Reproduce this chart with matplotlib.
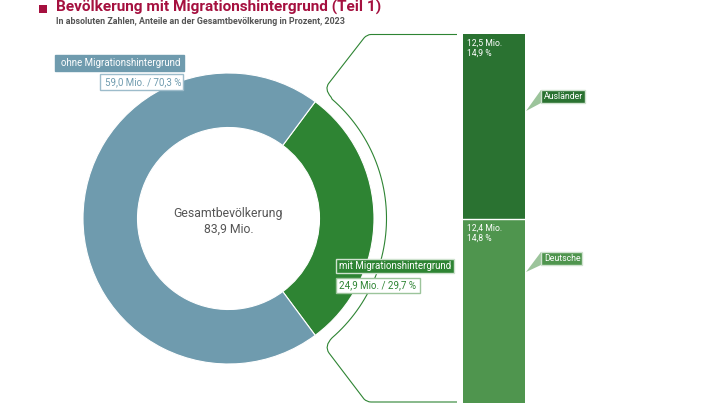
import numpy as np
import matplotlib
matplotlib.use("Agg")
import matplotlib.pyplot as plt
from matplotlib.patches import Rectangle, Polygon, PathPatch
from matplotlib.path import Path

plt.rcParams["font.family"] = ["Roboto", "DejaVu Sans"]

W, H = 720, 407

# data
donut_labels = ["mit Migrationshintergrund", "ohne Migrationshintergrund"]
donut_values = [24.9, 59.0]
donut_shares = [29.7, 70.3]
total = 83.9
bar_labels = ["Deutsche", "Ausländer"]
bar_values = [12.4, 12.5]
bar_shares = [14.8, 14.9]

BLUE = "#6f9bae"
GREEN = "#2e8433"
DARK = "#2a7231"
LIGHT = "#4f954e"
RED = "#a5103f"
GREY = "#555555"

fig = plt.figure(figsize=(W / 100, H / 100), dpi=100)

# background axes in pixel coords
ax = fig.add_axes([0, 0, 1, 1])


def py(y):
    return H - y


def de(v, unit):
    return f"{v:.1f} {unit}".replace(".", ",", 1)


# ========== donut ==========
cx, cy, R = 228.5, 218.5, 145.5
ax.pie(donut_values, colors=[GREEN, BLUE], center=(cx, py(cy)), radius=R,
       startangle=-donut_values[0] / total * 180, counterclock=True,
       wedgeprops=dict(width=R - 91, edgecolor="white", linewidth=0.8), frame=True)
ax.set_xlim(0, W)
ax.set_ylim(0, H)
ax.set_aspect("auto")
ax.axis("off")

ax.text(cx, py(214), "Gesamtbevölkerung", ha="center", va="center", fontsize=8.8, color=GREY)
ax.text(cx, py(229), de(total, "Mio."), ha="center", va="center", fontsize=8.8, color=GREY)

# ========== bracket ==========
r_arc = 158
a = np.radians(np.linspace(49, -49, 60))
arc = [(cx + r_arc * np.cos(t), py(cy - r_arc * np.sin(t))) for t in a]
verts = [(457, py(34.5)), (371, py(34.5)), (367, py(34.5)), (364, py(38)), (329, py(83)), (324, py(89)), (331, py(97))]
codes = [Path.MOVETO, Path.LINETO, Path.CURVE3, Path.CURVE3, Path.LINETO, Path.CURVE3, Path.CURVE3]
verts += arc
codes += [Path.LINETO] * len(arc)
verts += [(324, py(346)), (329, py(353)), (364, py(399)), (367, py(402)), (371, py(402)), (457, py(402))]
codes += [Path.CURVE3, Path.CURVE3, Path.LINETO, Path.CURVE3, Path.CURVE3, Path.LINETO]
ax.add_patch(PathPatch(Path(verts, codes), fill=False, edgecolor=GREEN, linewidth=0.8, zorder=3))

# ========== stacked bar ==========
bar_ax = fig.add_axes([463 / W, (H - 403) / H, 62 / W, 369 / H])
bar_ax.bar([0], bar_values[0], width=1, color=LIGHT)
bar_ax.bar([0], bar_values[1], width=1, bottom=bar_values[0], color=DARK, edgecolor="none")
bar_ax.axhline(bar_values[0], color="white", linewidth=1)
bar_ax.set_xlim(-0.5, 0.5)
bar_ax.set_ylim(0, sum(bar_values))
bar_ax.axis("off")

for y0, val, share in [(43, bar_values[1], bar_shares[1]), (228, bar_values[0], bar_shares[0])]:
    ax.text(467, py(y0), de(val, "Mio."), color="white", fontsize=6.2, va="center", zorder=6)
    ax.text(467, py(y0 + 10.5), de(share, "%"), color="white", fontsize=6.2, va="center", zorder=6)
bar_ax.set_zorder(1)
ax.set_zorder(2)
ax.patch.set_visible(False)


def box(x0, y0, x1, y1, text, fc, ec, tc, size, pad=5):
    ax.add_patch(Rectangle((x0, py(y1)), x1 - x0, y1 - y0, facecolor=fc, edgecolor=ec, linewidth=1, zorder=5))
    ax.text(x0 + pad, py((y0 + y1) / 2), text, color=tc, fontsize=size, va="center", ha="left", zorder=6)


# ========== labels ==========
box(55, 55, 184, 71, donut_labels[1], BLUE, BLUE, "white", 7, pad=6)
box(100, 74, 183, 90, f"{de(donut_values[1], 'Mio.')} / {de(donut_shares[1], '%')}", "white", "#9dbccb", BLUE, 7)
box(336, 259, 454, 273, donut_labels[0], GREEN, "#cfe2cf", "white", 7, pad=3)
box(336, 278, 420, 293, f"{de(donut_values[0], 'Mio.')} / {de(donut_shares[0], '%')}", "white", "#9cc49b", GREEN, 7, pad=3)

ax.add_patch(Polygon([(526, py(111)), (541, py(90)), (541, py(103))], facecolor="#9cc49b", edgecolor="none", zorder=4))
box(541, 90, 585, 103, bar_labels[1], DARK, "#cfe2cf", "white", 6.3, pad=3)
ax.add_patch(Polygon([(526, py(272)), (541, py(252)), (541, py(265))], facecolor="#9cc49b", edgecolor="none", zorder=4))
box(541, 252, 582, 265, bar_labels[0], LIGHT, "#cfe2cf", "white", 6.3, pad=3)

# ========== title ==========
ax.add_patch(Rectangle((38.5, py(13)), 8.5, 8.5, facecolor=RED, edgecolor="none"))
ax.text(56, py(7.5), "Bevölkerung mit Migrationshintergrund (Teil 1)", color=RED, fontsize=11.1,
        fontweight="bold", va="center")
ax.text(56, py(22), "In absoluten Zahlen, Anteile an der Gesamtbevölkerung in Prozent, 2023", color=GREY,
        fontsize=6.4, fontweight="bold", va="center")

fig.savefig("out.png", dpi=100)
